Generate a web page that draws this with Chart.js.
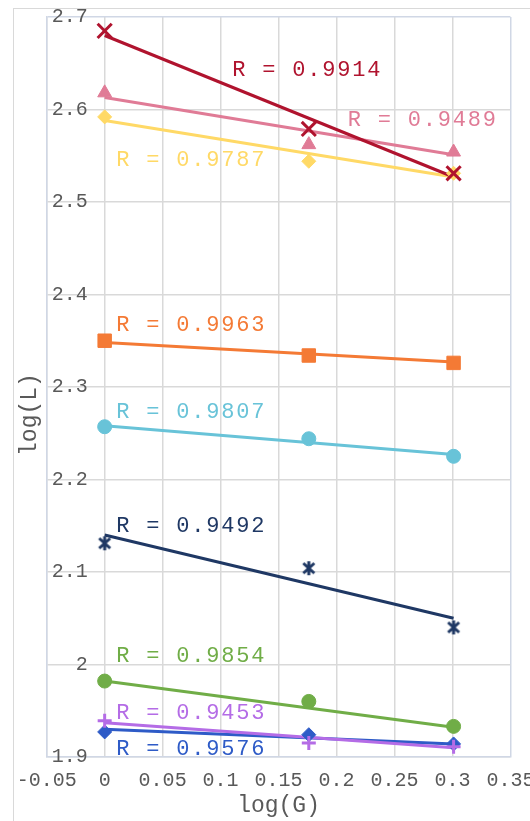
<!DOCTYPE html>
<html>
<head>
<meta charset="utf-8">
<script src="https://cdn.jsdelivr.net/npm/chart.js@4/dist/chart.umd.min.js"></script>
<style>
  html, body { margin: 0; padding: 0; background: #ffffff; width: 530px; height: 821px; overflow: hidden; }
  #frame { position: absolute; left: 13px; top: 8px; width: 1000px; height: 1000px; border-left: 1.5px solid #D9D9D9; border-top: 1.5px solid #D9D9D9; }
  #wrap { position: absolute; left: 0; top: 0; width: 546px; height: 822px; }
</style>
</head>
<body>
<div id="frame"></div>
<div id="wrap"><canvas id="c"></canvas></div>
<script>
// ---- data ----
const xValues = [0, 0.1761, 0.3010];                 // log(G)
const seriesNames = ['s1', 's2', 's3', 's4', 's5', 's6', 's7', 's8', 's9'];
const s1 = [2.685, 2.579, 2.531];
const s2 = [2.618, 2.562, 2.554];
const s3 = [2.592, 2.544, 2.531];
const s4 = [2.350, 2.334, 2.326];
const s5 = [2.257, 2.244, 2.225];
const s6 = [2.131, 2.104, 2.040];
const s7 = [1.982, 1.960, 1.933];
const s8 = [1.939, 1.915, 1.911];
const s9 = [1.927, 1.924, 1.914];
// trend line end values at x = 0 and x = 0.301
const trendStart = [2.680, 2.613, 2.588, 2.348, 2.258, 2.140, 1.982, 1.937, 1.930];
const trendEnd   = [2.527, 2.551, 2.527, 2.327, 2.227, 2.050, 1.932, 1.910, 1.914];
const rLabels = ['R = 0.9914', 'R = 0.9489', 'R = 0.9787', 'R = 0.9963', 'R = 0.9807',
                 'R = 0.9492', 'R = 0.9854', 'R = 0.9453', 'R = 0.9576'];
const rLabelX = [0.110, 0.2097, 0.010, 0.010, 0.010, 0.010, 0.010, 0.010, 0.010];
const rLabelY = [2.6427, 2.5884, 2.545, 2.3668, 2.2723, 2.1495, 2.0094, 1.9478, 1.9080];
const xTickValues = [-0.05, 0, 0.05, 0.1, 0.15, 0.2, 0.25, 0.3, 0.35];
const xTickLabels = ['-0.05', '0', '0.05', '0.1', '0.15', '0.2', '0.25', '0.3', '0.35'];
const yTickValues = [1.9, 2.0, 2.1, 2.2, 2.3, 2.4, 2.5, 2.6, 2.7];
const yTickLabels = ['1.9', '2', '2.1', '2.2', '2.3', '2.4', '2.5', '2.6', '2.7'];

// ---- styles ----
const colors = ['#B0132E', '#E07B96', '#FFD966', '#F47A35', '#68C3D8', '#1F3864', '#70AD47', '#B46CE6', '#2E5BC7'];
const FONT = '"Courier New", "Nimbus Mono PS", "Nimbus Mono L", FreeMono, Courier, "Liberation Mono", monospace';

// six-armed asterisk marker (× plus vertical bar)
function asteriskMarker(color) {
  const c = document.createElement('canvas');
  c.width = 18; c.height = 18;
  const g = c.getContext('2d');
  g.strokeStyle = color; g.lineWidth = 3; g.lineCap = 'butt';
  g.beginPath();
  g.moveTo(3.5, 4); g.lineTo(14.5, 14);
  g.moveTo(14.5, 4); g.lineTo(3.5, 14);
  g.moveTo(9, 2); g.lineTo(9, 16);
  g.stroke();
  return c;
}

const pStyles = ['crossRot', 'triangle', 'rectRot', 'rect', 'circle', asteriskMarker(colors[5]), 'circle', 'cross', 'rectRot'];
const pRadius = [10, 8, 7, 9.5, 7, 9, 7, 7, 7];
const pBorder = [3, 1, 1, 1, 1, 1, 1, 3, 1];
const allSeries = [s1, s2, s3, s4, s5, s6, s7, s8, s9];

const datasets = [];
allSeries.forEach((vals, i) => {
  datasets.push({
    label: seriesNames[i] + ' trend',
    data: [{x: xValues[0], y: trendStart[i]}, {x: xValues[xValues.length - 1], y: trendEnd[i]}],
    showLine: true,
    borderColor: colors[i],
    backgroundColor: colors[i],
    borderWidth: 3,
    pointRadius: 0,
    pointHoverRadius: 0,
    order: 2
  });
  datasets.push({
    label: seriesNames[i],
    data: vals.map((v, k) => ({x: xValues[k], y: v})),
    showLine: false,
    pointStyle: pStyles[i],
    pointRadius: pRadius[i],
    pointBorderWidth: pBorder[i],
    borderColor: colors[i],
    backgroundColor: colors[i],
    order: 1
  });
});

const rLabelPlugin = {
  id: 'rLabels',
  afterDatasetsDraw(chart) {
    const {ctx, scales} = chart;
    ctx.save();
    ctx.font = '22px ' + FONT;
    ctx.letterSpacing = '1.8px';
    ctx.textBaseline = 'middle';
    ctx.textAlign = 'left';
    rLabels.forEach((t, i) => {
      ctx.fillStyle = colors[i];
      ctx.fillText(t, scales.x.getPixelForValue(rLabelX[i]), scales.y.getPixelForValue(rLabelY[i]));
    });
    ctx.restore();
  }
};

new Chart(document.getElementById('c'), {
  type: 'scatter',
  data: { datasets },
  plugins: [rLabelPlugin],
  options: {
    responsive: true,
    maintainAspectRatio: false,
    animation: false,
    layout: { padding: { top: 6.3, left: 0, right: 0, bottom: 0 } },
    plugins: { legend: { display: false }, tooltip: { enabled: false } },
    scales: {
      x: {
        type: 'linear',
        min: -0.05, max: 0.35,
        afterBuildTicks: (s) => { s.ticks = xTickValues.map(v => ({value: v})); },
        ticks: {
          padding: 11.6,
          color: '#595959',
          font: { family: FONT, size: 20 },
          maxRotation: 0,
          autoSkip: false,
          callback: (v, i) => xTickLabels[i]
        },
        grid: {
          color: (c) => c.index === xTickValues.length - 1 ? '#D0D7E5' : '#D9D9D9',
          lineWidth: 1.5,
          drawTicks: false
        },
        border: { display: true, color: '#D0D7E5', width: 1.5 },
        title: {
          display: true, text: 'log(G)', color: '#595959',
          font: { family: FONT, size: 23 },
          padding: { top: -11.7, bottom: 2 }
        }
      },
      y: {
        type: 'linear',
        min: 1.9, max: 2.7,
        afterBuildTicks: (s) => { s.ticks = yTickValues.map(v => ({value: v})); },
        ticks: {
          mirror: true,
          crossAlign: 'far',
          padding: 5,
          color: '#595959',
          font: { family: FONT, size: 20 },
          autoSkip: false,
          callback: (v, i) => yTickLabels[i]
        },
        grid: {
          color: (c) => c.index === yTickValues.length - 1 ? '#D0D7E5' : '#D9D9D9',
          lineWidth: 1.5,
          drawTicks: false
        },
        border: { display: true, color: '#D0D7E5', width: 1.5 },
        title: {
          display: true, text: 'log(L)    ', color: '#595959',
          font: { family: FONT, size: 23 },
          padding: { top: 16, bottom: -6.9 }
        }
      }
    }
  }
});
</script>
</body>
</html>
